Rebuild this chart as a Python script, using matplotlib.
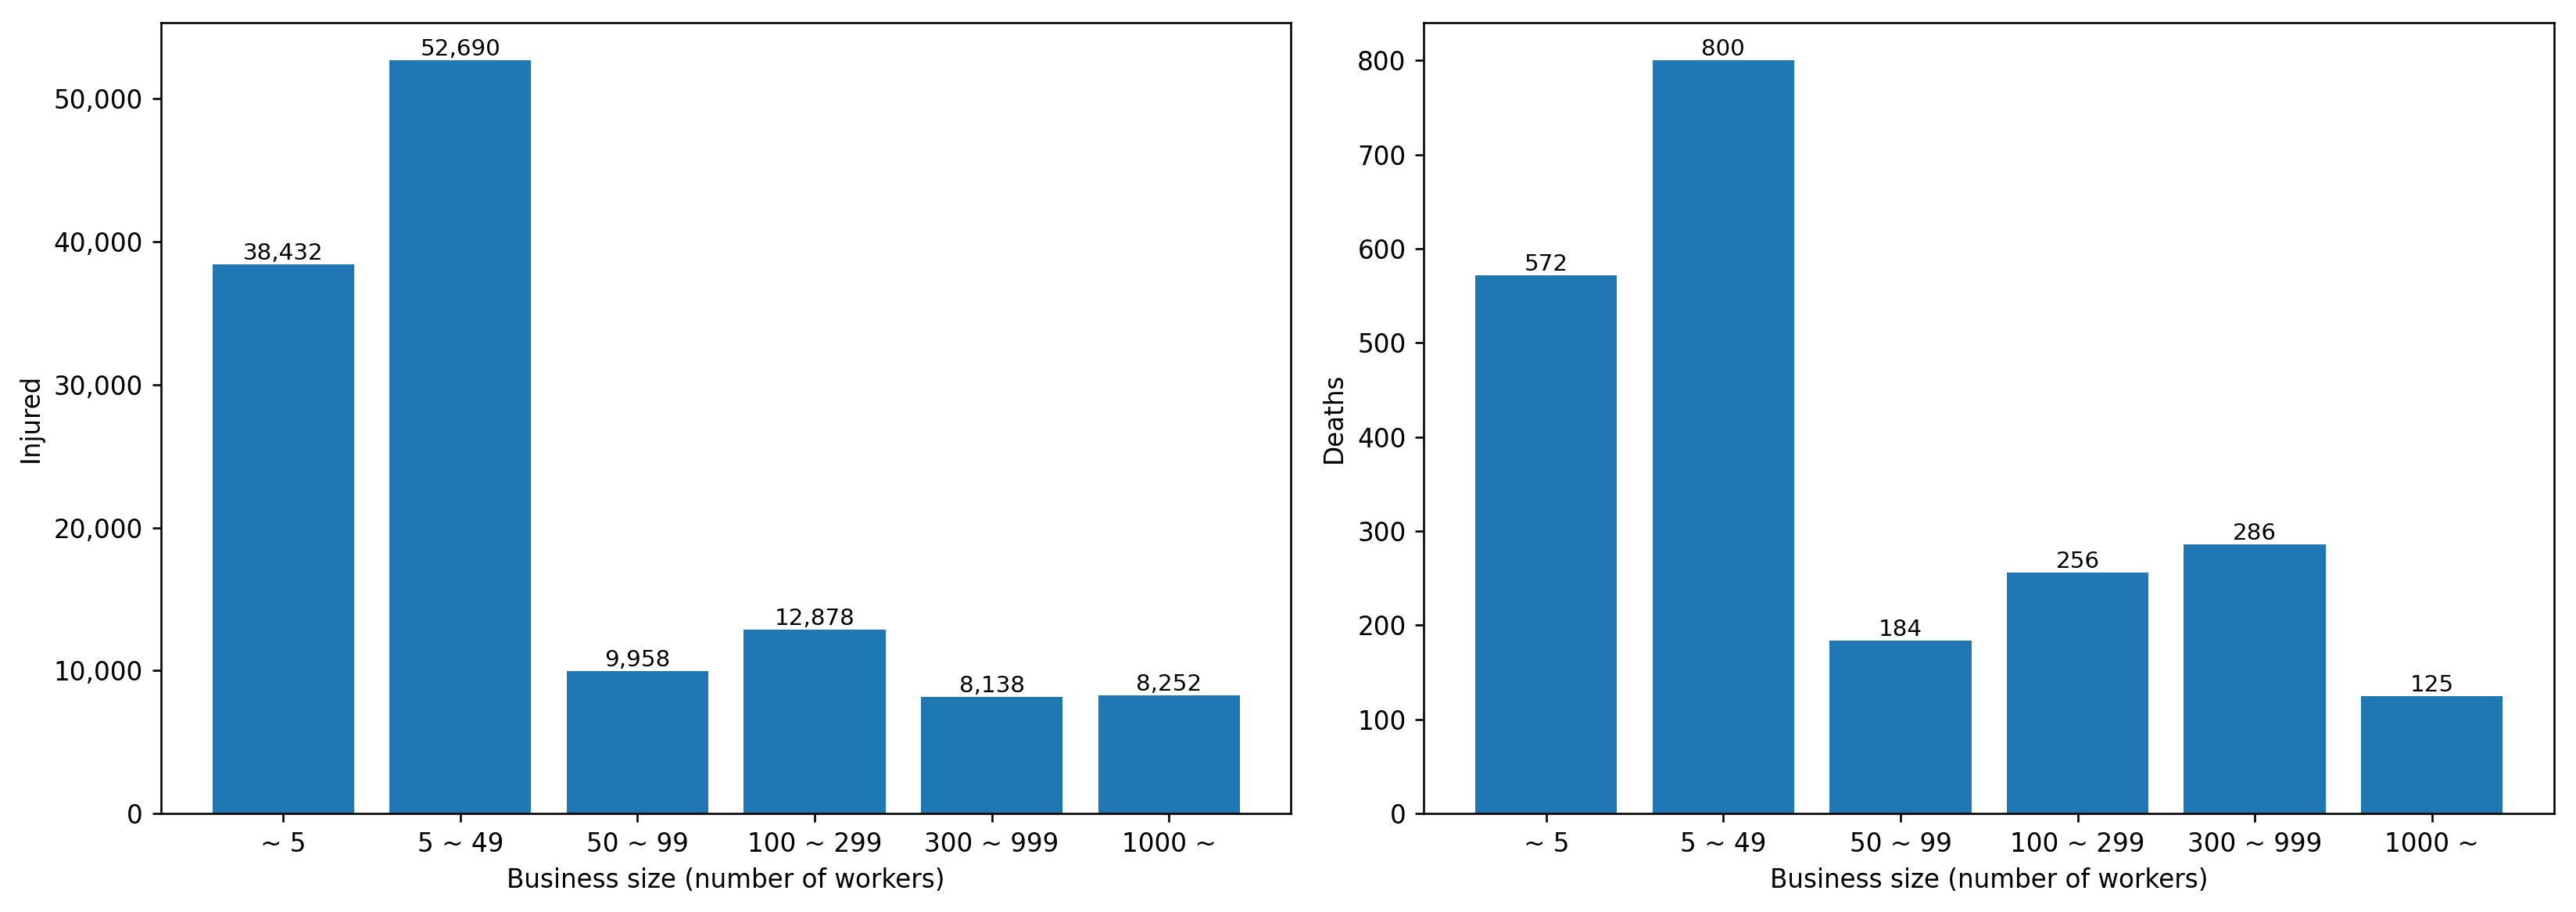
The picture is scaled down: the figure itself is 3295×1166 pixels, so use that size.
import matplotlib
matplotlib.use("Agg")
import matplotlib.pyplot as plt
from matplotlib.ticker import FuncFormatter

# 事業規模別 労働災害 (負傷者 / 死亡者)
sizes = ["~ 5", "5 ~ 49", "50 ~ 99", "100 ~ 299", "300 ~ 999", "1000 ~"]
injured = [38432, 52690, 9958, 12878, 8138, 8252]
deaths = [572, 800, 184, 256, 286, 125]

DPI = 235.36
fig, axes = plt.subplots(1, 2, figsize=(3295 / DPI, 1166 / DPI), dpi=DPI)
plt.subplots_adjust(left=0.0625, right=0.9915, top=0.975, bottom=0.108, wspace=0.1176)

for ax, vals, ylab in zip(axes, [injured, deaths], ["Injured", "Deaths"]):
    bars = ax.bar(sizes, vals, color="#1f77b4")
    ax.bar_label(bars, labels=[f"{v:,}" for v in vals], fontsize=9)
    ax.set_xlabel("Business size (number of workers)")
    ax.set_ylabel(ylab)
    ax.yaxis.set_major_formatter(FuncFormatter(lambda v, p: f"{v:,.0f}"))

fig.savefig("out.png", dpi=DPI)
